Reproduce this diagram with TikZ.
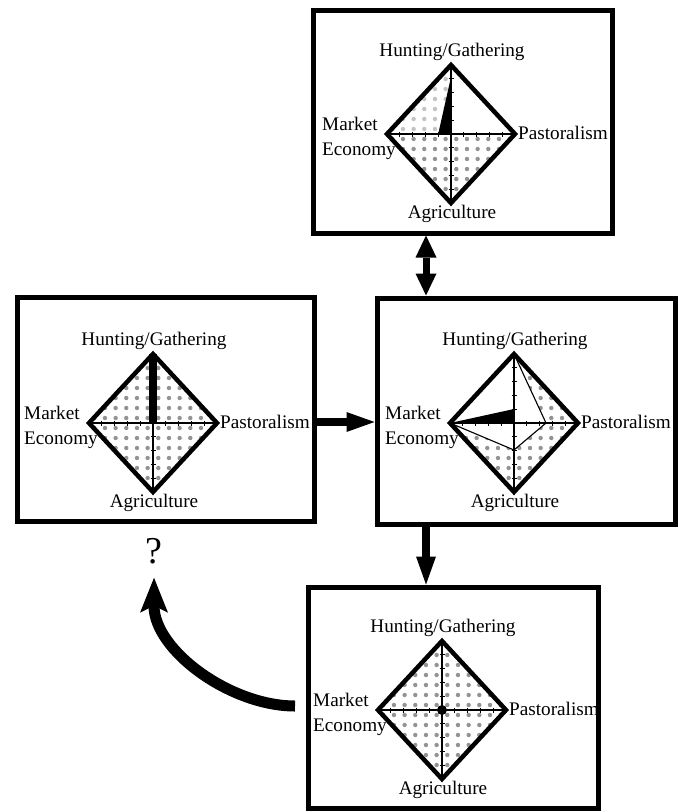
\documentclass[tikz,border=0pt]{standalone}
\usepackage{fontspec}
\setmainfont{Liberation Serif}
\usetikzlibrary{arrows.meta}

\begin{document}
\begin{tikzpicture}[x = 1pt, y = -1pt,
						font = \fontsize{19.2}{23}\selectfont,
						panel/.style = {draw, line width = 5pt, inner sep = 0pt},
						axisLine/.style = {line width = 1.1pt},
						rim/.style = {line width = 4.5pt},
						label/.style = {inner sep = 0pt},
						flowArrow/.style = {line width = 8pt, -{Triangle[length = 28pt, width = 20pt, line width = 0pt]}},
						pairArrow/.style = {line width = 7pt, {Triangle[length = 22pt, width = 21pt, line width = 0pt]}-{Triangle[length = 22pt, width = 21pt, line width = 0pt]}},
						returnArrow/.style = {line width = 11pt, -{Stealth[length = 35pt, width = 28pt, inset = 7pt, line width = 0pt]}, shorten >= 14pt},
						]
	
		\colorlet{dotGray}{gray!85}
		
		\useasboundingbox (0, 0) rectangle (678, 812);
		
		% Panels
		\node[panel, minimum width = 299pt, minimum height = 223pt] (topPanel) at (462.5, 121.5) {};
		\node[panel, minimum width = 298pt, minimum height = 226pt] (midPanel) at (526, 411) {};
		\node[panel, minimum width = 297pt, minimum height = 224pt] (leftPanel) at (165.5, 409) {};
		\node[panel, minimum width = 290pt, minimum height = 221pt] (bottomPanel) at (453, 697.5) {};
		
		% Diamond corners and stippled area
		\foreach \name/\cx/\cy in {top/451/134, mid/514/423, left/153/423, bottom/442/710} {
			\coordinate (\name C) at (\cx, \cy);
			\coordinate (\name N) at (\cx, \cy - 69);
			\coordinate (\name S) at (\cx, \cy + 69);
			\coordinate (\name W) at (\cx - 64, \cy);
			\coordinate (\name E) at (\cx + 64, \cy);
			\begin{scope}
				\clip (\name N) -- (\name W) -- (\name S) -- (\name E) -- cycle;
				\foreach \i in {-6, ..., 5}
					\foreach \j in {-7, ..., 6}
						\fill[dotGray] (\cx + \i * 10.67 + 5.3, \cy + \j * 10 + 5) circle[radius = 2.2];
			\end{scope}
		}
		
		% Parts left without stipple
		\fill[white] (topC) -- (topN) -- (topE) -- cycle;
		\fill[white, opacity = 0.45] (topC) -- (topN) -- (topW) -- cycle;
		\fill[white] (midN) -- (546, 423) -- (514, 450) -- (midW) -- cycle;
		
		% Axes, ticks, outlines and labels
		\foreach \name/\cx/\cy in {top/451/134, mid/514/423, left/153/423, bottom/442/710} {
			\draw[axisLine] (\name W) -- (\name E);
			\draw[axisLine] (\name N) -- (\name S);
			\foreach \k in {-4, ..., 4} {
				\draw[axisLine] (\cx + \k * 12.8, \cy - 2.5) -- (\cx + \k * 12.8, \cy + 2.5);
				\draw[axisLine] (\cx - 2.5, \cy + \k * 13.8) -- (\cx + 2.5, \cy + \k * 13.8);
			}
			\draw[rim] (\name N) -- (\name W) -- (\name S) -- (\name E) -- cycle;
			\node[label, anchor = base] (\name Hunt) at (\cx + 1, \cy - 77.5) {Hunting/Gathering};
			\node[label, anchor = base west] (\name Mkt) at (\cx - 129, \cy - 3.5) {Market};
			\node[label, anchor = base west] (\name Eco) at (\cx - 129, \cy + 21) {Economy};
			\node[label, anchor = base west] (\name Past) at (\cx + 67, \cy + 5.5) {Pastoralism};
			\node[label, anchor = base] (\name Agri) at (\cx + 1, \cy + 84) {Agriculture};
		}
		
		% Black markers
		\fill[black] (451, 77) -- (438.2, 134) -- (topC) -- cycle;
		\draw[axisLine] (midN) -- (546, 423) -- (514, 450) -- (midW);
		\fill[black] (midW) -- (514, 409) -- (midC) -- cycle;
		\fill[black] (149.3, 354) rectangle (156.7, 423);
		\fill[black] (bottomC) circle[radius = 5];
		
		% Question mark
		\node[inner sep = 0pt, anchor = base, font = \fontsize{38}{40}\selectfont] (question) at (154, 563) {?};
		
		% Arrows between panels
		\draw[pairArrow] (426, 0 |- topPanel.south) -- (426, 0 |- midPanel.north);
		\draw[flowArrow] (leftPanel.east |- 0, 422) -- (midPanel.west |- 0, 422);
		\draw[flowArrow] (426, 0 |- midPanel.south) -- (426, 0 |- bottomPanel.north);
		
		\coordinate (returnStart) at (295, 706);
		\draw[returnArrow] (returnStart) .. controls (230, 706) and (154, 650) .. (question.south);
		
	\end{tikzpicture}
\end{document}
